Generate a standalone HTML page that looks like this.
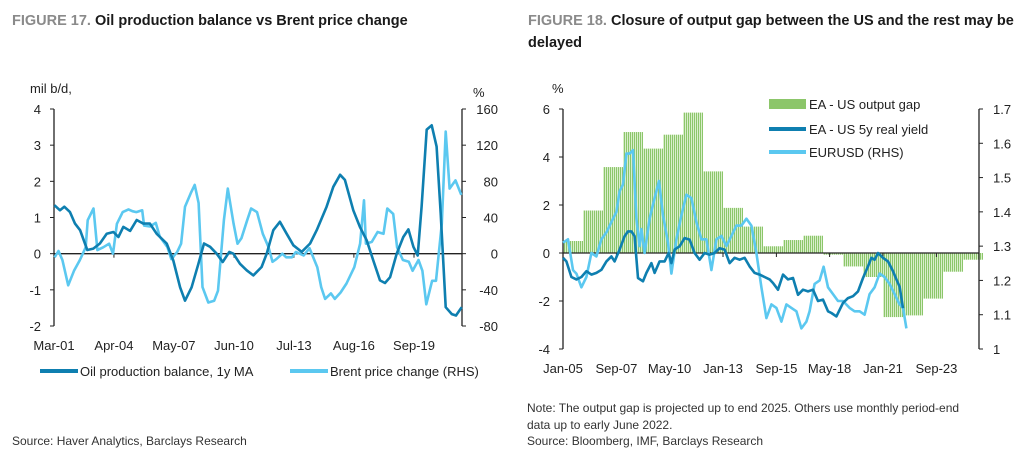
<!DOCTYPE html>
<html><head><meta charset="utf-8"><style>
html,body{margin:0;padding:0;background:#fff;}
svg{display:block;font-family:"Liberation Sans",sans-serif;}
.t{font-family:"Liberation Sans Narrow","Liberation Sans",sans-serif;font-weight:bold;font-size:14.5px;}
.ax{font-size:13px;fill:#222;}
.nt{font-size:12px;fill:#333;}
</style></head><body>
<svg id="s" width="1028" height="460" viewBox="0 0 1028 460">
<defs><pattern id="hatch" width="2" height="4" patternUnits="userSpaceOnUse"><rect width="1" height="4" fill="#8cc66a"/><rect x="1" width="1" height="4" fill="#d9eecb"/></pattern></defs>
<text class="t" x="12" y="25"><tspan fill="#8a8a8a">FIGURE 17. </tspan><tspan fill="#1a1a1a">Oil production balance vs Brent price change</tspan></text>
<text class="t" x="528" y="25"><tspan fill="#8a8a8a">FIGURE 18. </tspan><tspan fill="#1a1a1a">Closure of output gap between the US and the rest may be</tspan></text>
<text class="t" x="528" y="47" fill="#1a1a1a">delayed</text>
<text class="ax" x="30" y="93">mil b/d,</text>
<text class="ax" x="473" y="97">%</text>
<text class="ax" x="552" y="93">%</text>
<g id="c1"></g><g id="c2"></g>
<line x1="40" y1="371" x2="78" y2="371" stroke="#0e7fb0" stroke-width="4"/>
<text class="ax" x="80" y="376">Oil production balance, 1y MA</text>
<line x1="290" y1="371" x2="328" y2="371" stroke="#5bc8f0" stroke-width="4"/>
<text class="ax" x="330" y="376">Brent price change (RHS)</text>
<rect x="769" y="99" width="37" height="10" fill="#8cc66a"/>
<text class="ax" x="809" y="109">EA - US output gap</text>
<line x1="769" y1="129" x2="806" y2="129" stroke="#0e7fb0" stroke-width="4"/>
<text class="ax" x="809" y="134">EA - US 5y real yield</text>
<line x1="769" y1="152" x2="806" y2="152" stroke="#5bc8f0" stroke-width="4"/>
<text class="ax" x="809" y="157">EURUSD (RHS)</text>
<text class="nt" x="12" y="445">Source: Haver Analytics, Barclays Research</text>
<text class="nt" x="527" y="412">Note: The output gap is projected up to end 2025. Others use monthly period-end</text>
<text class="nt" x="527" y="429">data up to early June 2022.</text>
<text class="nt" x="527" y="445">Source: Bloomberg, IMF, Barclays Research</text>
</svg>
<script>
// Figure 17 data
const oilYears=[2001.19,2001.48,2001.70,2001.99,2002.25,2002.51,2002.88,2003.19,2003.53,2003.88,2004.22,2004.48,2004.73,2005.08,2005.42,2005.76,2006.10,2006.45,2006.96,2007.30,2007.65,2007.90,2008.24,2008.59,2008.88,2009.19,2009.53,2009.84,2010.18,2010.39,2010.73,2011.07,2011.41,2011.84,2012.10,2012.44,2012.78,2013.13,2013.47,2013.90,2014.33,2014.67,2015.18,2015.52,2015.87,2016.12,2016.55,2016.89,2017.24,2017.58,2017.92,2018.18,2018.44,2018.78,2019.12,2019.38,2019.64,2019.86,2020.06,2020.32,2020.58,2020.83,2021.04,2021.30,2021.61,2021.83,2022.12];
const oilBalance=[1.34,1.2,1.3,1.15,0.83,0.65,0.1,0.14,0.28,0.55,0.6,0.46,0.74,0.63,0.93,0.83,0.83,0.55,0.28,-0.19,-0.93,-1.3,-0.93,-0.28,0.28,0.19,0,-0.23,0.05,0,-0.28,-0.46,-0.6,-0.37,0,0.65,0.88,0.55,0.23,0.05,0.28,0.65,1.3,1.85,2.18,2.04,1.2,0.74,0.37,-0.19,-0.74,-0.81,-0.65,0,0.46,0.67,0.19,-0.05,1.3,3.43,3.55,2.96,1.11,-1.48,-1.67,-1.71,-1.48];
const brentYears=[2001.2,2001.4,2001.6,2001.9,2002.2,2002.5,2002.8,2002.9,2003.2,2003.4,2003.7,2004.0,2004.2,2004.4,2004.7,2005.0,2005.2,2005.4,2005.7,2005.8,2006.1,2006.4,2006.6,2007.0,2007.2,2007.5,2007.7,2007.9,2008.2,2008.4,2008.6,2008.8,2009.1,2009.4,2009.6,2009.9,2010.1,2010.4,2010.6,2010.8,2011.1,2011.3,2011.6,2011.9,2012.2,2012.4,2012.6,2012.9,2013.1,2013.4,2013.6,2014.0,2014.3,2014.7,2014.9,2015.1,2015.4,2015.6,2015.9,2016.2,2016.6,2016.9,2017.1,2017.2,2017.5,2017.8,2018.1,2018.3,2018.6,2018.8,2019.1,2019.4,2019.6,2019.9,2020.1,2020.3,2020.6,2020.8,2021.1,2021.3,2021.5,2021.8,2022.1];
const brentChange=[-4,3,-7,-35,-19,-7,7,37,50,4,7,11,0,33,46,49,47,46,48,31,30,34,19,7,-6,2,11,52,67,76,56,-37,-54,-52,-41,37,72,33,11,17,37,50,46,22,7,-9,-6,0,-4,-4,2,-2,6,-15,-37,-50,-44,-50,-43,-33,-15,11,59,11,13,24,22,50,44,7,-7,-9,-19,-7,-19,-56,-30,-30,33,135,72,81,65];
const leftTicks=[-2,-1,0,1,2,3,4];
const rightTicks=[-80,-40,0,40,80,120,160];
const xLabels17=["Mar-01","Apr-04","May-07","Jun-10","Jul-13","Aug-16","Sep-19"];
const xLabelYears17=[2001.17,2004.25,2007.33,2010.42,2013.5,2016.58,2019.67];
// Figure 18 data
const gapYears=[2005,2006,2007,2008,2009,2010,2011,2012,2013,2014,2015,2016,2017,2018,2019,2020,2021,2022,2023,2024,2025];
const outputGap=[0.5,1.77,3.58,5.04,4.35,4.93,5.85,3.4,1.88,1.1,0.28,0.54,0.72,-0.07,-0.56,-1.0,-2.67,-2.6,-1.9,-0.78,-0.28];
const yieldYears=[2005.0,2005.17,2005.42,2005.67,2005.92,2006.17,2006.42,2006.67,2006.92,2007.17,2007.42,2007.58,2007.83,2008.08,2008.25,2008.42,2008.58,2008.75,2009.0,2009.17,2009.42,2009.58,2009.83,2010.08,2010.28,2010.42,2010.58,2010.83,2011.08,2011.33,2011.58,2011.83,2012.08,2012.33,2012.58,2012.83,2013.08,2013.33,2013.58,2013.83,2014.08,2014.33,2014.58,2014.83,2015.08,2015.33,2015.5,2015.75,2016.0,2016.25,2016.5,2016.75,2017.0,2017.25,2017.5,2017.75,2018.0,2018.25,2018.42,2018.67,2019.0,2019.25,2019.5,2019.75,2020.0,2020.25,2020.42,2020.58,2020.75,2021.0,2021.25,2021.5,2021.67,2021.83,2022.0];
const realYield=[-0.2,-0.35,-1,-1.1,-1,-0.76,-0.9,-0.83,-0.7,-0.35,-0.14,-0.35,0.14,0.7,0.9,0.9,0.7,-1.04,-1.18,-0.83,-0.42,-0.83,-0.35,-0.35,0,-0.42,0.14,0.28,0.62,0.56,0,-0.28,0,-0.07,0,0.2,0.14,-0.42,-0.2,-0.28,-0.2,-0.56,-0.83,-0.9,-1.0,-1.1,-1.25,-1.53,-0.9,-1.1,-1.04,-1.74,-1.53,-1.6,-1.53,-2.0,-1.94,-2.43,-2.5,-2.64,-2.08,-1.88,-1.8,-1.6,-1.04,-0.56,-0.2,-0.28,0,-0.2,-0.35,-0.76,-1.1,-1.4,-2.3];
const fxYears=[2005.0,2005.25,2005.5,2005.67,2005.92,2006.17,2006.42,2006.67,2006.92,2007.17,2007.42,2007.67,2007.83,2008.0,2008.17,2008.33,2008.5,2008.67,2008.83,2008.92,2009.08,2009.33,2009.58,2009.8,2010.0,2010.25,2010.42,2010.67,2010.92,2011.17,2011.42,2011.67,2011.92,2012.17,2012.42,2012.67,2012.92,2013.17,2013.42,2013.67,2013.92,2014.17,2014.42,2014.67,2014.92,2015.17,2015.42,2015.67,2015.92,2016.17,2016.42,2016.67,2016.92,2017.17,2017.33,2017.58,2017.83,2018.03,2018.25,2018.5,2018.75,2019.0,2019.33,2019.58,2019.83,2020.08,2020.33,2020.58,2020.83,2021.08,2021.33,2021.58,2021.83,2022.0,2022.17];
const eurusd=[1.31,1.32,1.23,1.22,1.18,1.21,1.28,1.27,1.32,1.34,1.37,1.40,1.46,1.48,1.57,1.57,1.58,1.38,1.3,1.35,1.28,1.38,1.44,1.49,1.39,1.31,1.22,1.32,1.39,1.45,1.44,1.37,1.32,1.32,1.23,1.32,1.33,1.3,1.33,1.36,1.36,1.38,1.36,1.28,1.18,1.09,1.13,1.12,1.08,1.13,1.12,1.11,1.06,1.08,1.11,1.19,1.2,1.24,1.18,1.16,1.14,1.14,1.12,1.11,1.11,1.1,1.16,1.18,1.22,1.21,1.19,1.16,1.13,1.12,1.06];
const lTicks18=[-4,-2,0,2,4,6];
const rTicks18=[1,1.1,1.2,1.3,1.4,1.5,1.6,1.7];
const xLabels18=["Jan-05","Sep-07","May-10","Jan-13","Sep-15","May-18","Jan-21","Sep-23"];
const xLabelYears18=[2005,2007.67,2010.33,2013,2015.67,2018.33,2021,2023.67];

const NS="http://www.w3.org/2000/svg";
function mk(p,tag,at){const e=document.createElementNS(NS,tag);for(const k in at)e.setAttribute(k,at[k]);p.appendChild(e);return e;}
function path(xs,ys,fx,fy){const n=Math.min(xs.length,ys.length);let d='';for(let i=0;i<n;i++)d+=(i?'L':'M')+fx(xs[i]).toFixed(1)+' '+fy(ys[i]).toFixed(1);return d;}

// ---- Figure 17
const g1=document.getElementById('c1');
const L1=54,R1=462,T1=109,B1=326;
const x1=y=>L1+(y-2001.17)*19.46;
const yl1=v=>T1+(4-v)*(B1-T1)/6;
const yr1=v=>T1+(160-v)*(B1-T1)/240;
let e;
e=mk(g1,'line',{x1:L1,y1:T1,x2:L1,y2:B1,stroke:'#222','stroke-width':1.3});


e=mk(g1,'line',{x1:R1,y1:T1,x2:R1,y2:B1,stroke:'#222','stroke-width':1.3});


leftTicks.forEach(v=>{mk(g1,'line',{x1:L1-4,y1:yl1(v),x2:L1,y2:yl1(v),stroke:'#222'});
 e=mk(g1,'text',{x:L1-13,y:yl1(v)+5,'text-anchor':'end',class:'ax'});e.textContent=v;
 
 });
rightTicks.forEach(v=>{mk(g1,'line',{x1:R1,y1:yr1(v),x2:R1+4,y2:yr1(v),stroke:'#222'});
 e=mk(g1,'text',{x:R1+36,y:yr1(v)+5,'text-anchor':'end',class:'ax'});e.textContent=v;
 
 });
e=mk(g1,'line',{x1:L1,y1:yl1(0),x2:R1,y2:yl1(0),stroke:'#222','stroke-width':1.3});


xLabels17.forEach((s,i)=>{const x=x1(xLabelYears17[i]);mk(g1,'line',{x1:x,y1:yl1(0),x2:x,y2:yl1(0)+4,stroke:'#222'});
 e=mk(g1,'text',{x:x,y:350,'text-anchor':'middle',class:'ax'});e.textContent=s;
 
 });
e=mk(g1,'path',{d:path(brentYears,brentChange,x1,yr1),fill:'none',stroke:'#5bc8f0','stroke-width':2.6,'stroke-linejoin':'round'});


e=mk(g1,'path',{d:path(oilYears,oilBalance,x1,yl1),fill:'none',stroke:'#0e7fb0','stroke-width':2.6,'stroke-linejoin':'round'});



// ---- Figure 18
const g2=document.getElementById('c2');
const L2=563,R2=979,T2=109,B2=349;
const x2=y=>L2+(y-2005)*20;
const yl2=v=>T2+(6-v)*(B2-T2)/10;
const yr2=v=>T2+(1.7-v)*(B2-T2)/0.7;
outputGap.forEach((v,i)=>{const a=yl2(Math.max(v,0)),b=yl2(Math.min(v,0));
 e=mk(g2,'rect',{x:x2(gapYears[i]),y:a,width:20,height:Math.max(b-a,0.5),fill:'url(#hatch)'});
 
 });
e=mk(g2,'line',{x1:L2,y1:T2,x2:L2,y2:B2,stroke:'#222','stroke-width':1.3});


e=mk(g2,'line',{x1:R2,y1:T2,x2:R2,y2:B2,stroke:'#222','stroke-width':1.3});


lTicks18.forEach(v=>{mk(g2,'line',{x1:L2-4,y1:yl2(v),x2:L2,y2:yl2(v),stroke:'#222'});
 e=mk(g2,'text',{x:L2-13,y:yl2(v)+5,'text-anchor':'end',class:'ax'});e.textContent=v;
 
 });
rTicks18.forEach(v=>{mk(g2,'line',{x1:R2,y1:yr2(v),x2:R2+4,y2:yr2(v),stroke:'#222'});
 e=mk(g2,'text',{x:R2+14,y:yr2(v)+5,class:'ax'});e.textContent=v===1?'1':v.toFixed(1);
 
 });
e=mk(g2,'line',{x1:L2,y1:yl2(0),x2:R2,y2:yl2(0),stroke:'#222','stroke-width':1.3});


xLabels18.forEach((s,i)=>{const x=x2(xLabelYears18[i]);mk(g2,'line',{x1:x,y1:yl2(0),x2:x,y2:yl2(0)+4,stroke:'#222'});
 e=mk(g2,'text',{x:x,y:373,'text-anchor':'middle',class:'ax'});e.textContent=s;
 
 });
e=mk(g2,'path',{d:path(fxYears,eurusd,x2,yr2),fill:'none',stroke:'#5bc8f0','stroke-width':2.6,'stroke-linejoin':'round'});


e=mk(g2,'path',{d:path(yieldYears,realYield,x2,yl2),fill:'none',stroke:'#0e7fb0','stroke-width':2.6,'stroke-linejoin':'round'});


</script>
</body></html>
